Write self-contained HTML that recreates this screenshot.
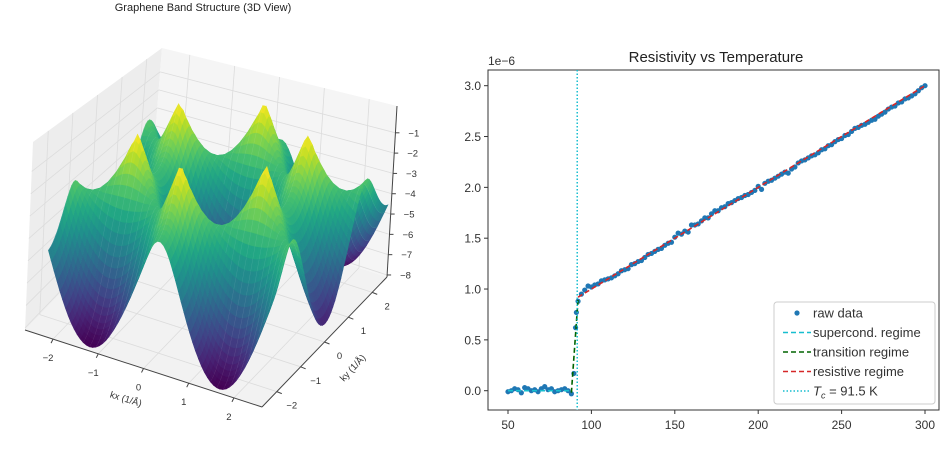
<!DOCTYPE html>
<html><head><meta charset="utf-8"><style>
html,body{margin:0;padding:0;background:#fff;}
svg{display:block;font-family:"Liberation Sans","DejaVu Sans",sans-serif;}
</style></head><body>
<svg id="fig" width="949" height="449" viewBox="0 0 949 449" xmlns="http://www.w3.org/2000/svg">
<g id="left"></g>
<g id="right"></g>
</svg>
<script>
// ---------- Resistivity data (values in 1e-6) ----------
const superStartT = 50;
const superVals = [-0.01,0.00,0.02,0.01,-0.02,0.03,0.02,0.00,0.01,-0.01,0.02,0.04,0.01,0.02,-0.01,0.00,0.01,0.02,0.00,-0.03];
const transTemps = [89.5,90.5,91.0];
const transVals = [0.17,0.62,0.77];
const resistStartT = 92;
const resistVals = [0.88,0.95,0.99,1.03,1.02,1.04,1.05,1.08,1.09,1.10,1.11,1.13,1.15,1.18,1.19,1.20,1.24,1.25,1.27,1.28,1.31,1.34,1.35,1.37,1.39,1.40,1.43,1.45,1.46,1.51,1.55,1.54,1.57,1.56,1.63,1.63,1.64,1.67,1.70,1.70,1.74,1.77,1.77,1.80,1.81,1.84,1.85,1.87,1.89,1.90,1.92,1.93,1.95,1.97,2.01,1.98,2.04,2.06,2.07,2.09,2.11,2.13,2.15,2.14,2.18,2.20,2.24,2.26,2.27,2.29,2.31,2.32,2.34,2.37,2.38,2.41,2.42,2.45,2.47,2.48,2.51,2.52,2.55,2.58,2.59,2.61,2.62,2.64,2.66,2.67,2.70,2.72,2.74,2.77,2.79,2.80,2.83,2.84,2.87,2.88,2.90,2.92,2.95,2.98,3.00];
const superFit = [[50,0],[88,0]];
const transFit = [[88,-0.02],[92,0.9]];
const resistFit = [[92,0.92],[300,3.0]];
const tcValue = [91.5];
const xTicks = [50,100,150,200,250,300];
const yTicks = [0,0.5,1.0,1.5,2.0,2.5,3.0];
const yTickLabels = ["0.0","0.5","1.0","1.5","2.0","2.5","3.0"];

// ---------- 3D surface params ----------
const kRange = [-2.5, 2.5];
const hopping = [2.7];
const latticeA = [1.42];
const kTicks = [-2,-1,0,1,2];
const zTicks = [-1,-2,-3,-4,-5,-6,-7,-8];

const NS="http://www.w3.org/2000/svg";
function mk(tag, attrs, parent){const e=document.createElementNS(NS,tag);for(const k in attrs)e.setAttribute(k,attrs[k]);parent.appendChild(e);return e;}

// ===== Right chart =====
const R=document.getElementById('right');
const X=t=>508+(t-50)*1.668;
const Y=v=>390.7-v*101.67;
let fr=mk('rect',{x:488,y:70,width:451,height:340,fill:'none',stroke:'#333','stroke-width':1},R);

let t1=mk('text',{x:716,y:62,'font-size':15,'text-anchor':'middle',fill:'#222'},R);t1.textContent='Resistivity vs Temperature';

let ex=mk('text',{x:488,y:65,'font-size':12,fill:'#333'},R);ex.textContent='1e\u22126';

xTicks.forEach(t=>{mk('line',{x1:X(t),x2:X(t),y1:410,y2:414,stroke:'#333'},R);
 let l=mk('text',{x:X(t),y:429,'font-size':12,'text-anchor':'middle',fill:'#333'},R);l.textContent=t;
 });
yTicks.forEach((v,i)=>{mk('line',{x1:484,x2:488,y1:Y(v),y2:Y(v),stroke:'#333'},R);
 let l=mk('text',{x:481,y:Y(v)+4.5,'font-size':12,'text-anchor':'end',fill:'#333'},R);l.textContent=yTickLabels[i];
 });
function fitLine(p,col,dash,name){let l=mk('line',{x1:X(p[0][0]),y1:Y(p[0][1]),x2:X(p[1][0]),y2:Y(p[1][1]),stroke:col,'stroke-width':1.6,'stroke-dasharray':dash},R);
 }
const dots=mk('g',{fill:'#1f77b4'},R);

superVals.forEach((v,i)=>mk('circle',{cx:X(superStartT+2*i),cy:Y(v),r:2.6},dots));
transVals.forEach((v,i)=>mk('circle',{cx:X(transTemps[i]),cy:Y(v),r:2.6},dots));
resistVals.forEach((v,i)=>mk('circle',{cx:X(resistStartT+2*i),cy:Y(v),r:2.6},dots));
fitLine(superFit,'#17becf','5,3','supercond-fit-line');
fitLine(transFit,'#006400','5,3','transition-fit-line');
fitLine(resistFit,'#d62728','5,3','resistive-fit-line');
let tc=mk('line',{x1:X(tcValue[0]),x2:X(tcValue[0]),y1:70,y2:410,stroke:'#17becf','stroke-width':1.5,'stroke-dasharray':'1.5,2'},R);

// legend
const lg=mk('g',{},R);
mk('rect',{x:774,y:302,width:161,height:102,rx:3,fill:'#fff','fill-opacity':0.85,stroke:'#ccc'},lg);
const legItems=[['raw data','dot','#1f77b4'],['supercond. regime','5,3','#17becf'],['transition regime','5,3','#006400'],['resistive regime','5,3','#d62728'],['Tc','1.5,2','#17becf']];
legItems.forEach((it,i)=>{const y=313+i*19.5;
 const g=mk('g',{},lg);
 if(it[1]==='dot')mk('circle',{cx:797,cy:y,r:2.6,fill:it[2]},g);
 else mk('line',{x1:783,x2:811,y1:y,y2:y,stroke:it[2],'stroke-width':1.6,'stroke-dasharray':it[1]},g);
 const tx=mk('text',{x:813,y:y+4.5,'font-size':13,fill:'#333'},g);
 if(it[0]==='Tc'){tx.innerHTML='<tspan font-style="italic">T</tspan><tspan font-style="italic" font-size="9" dy="3">c</tspan><tspan dy="-3"> = 91.5 K</tspan>';}
 else tx.textContent=it[0];});

// ===== Left 3D chart =====
const L=document.getElementById('left');
const axLo=-2.62, axHi=2.62, zLo=-8.1, zHi=0.32;
function P(u,v,w){
 const bx=25+u*237+v*125, by=330+u*77-v*130;
 const h=188+19*u-36*v; const sx=8-2*u+4*v;
 return [bx+w*sx, by-w*h];}
const nu=k=>(k-axLo)/(axHi-axLo), nw=z=>(z-zLo)/(zHi-zLo);
function poly(pts,attrs,parent){return mk('polygon',Object.assign({points:pts.map(p=>p[0].toFixed(1)+','+p[1].toFixed(1)).join(' ')},attrs),parent);}
const panes=mk('g',{},L);
poly([P(0,0,0),P(1,0,0),P(1,1,0),P(0,1,0)],{fill:'#f2f2f2'},panes);
poly([P(0,0,0),P(0,1,0),P(0,1,1),P(0,0,1)],{fill:'#ededed'},panes);
poly([P(0,1,0),P(1,1,0),P(1,1,1),P(0,1,1)],{fill:'#f5f5f5'},panes);
const grid=mk('g',{stroke:'#dcdcdc','stroke-width':0.8},L);
function seg(a,b,par){return mk('line',{x1:a[0],y1:a[1],x2:b[0],y2:b[1]},par);}
kTicks.forEach(k=>{const u=nu(k);seg(P(u,0,0),P(u,1,0),grid);seg(P(u,1,0),P(u,1,1),grid);
 seg(P(0,u,0),P(1,u,0),grid);seg(P(0,u,0),P(0,u,1),grid);});
zTicks.forEach(z=>{const w=nw(z);seg(P(0,0,w),P(0,1,w),grid);seg(P(0,1,w),P(1,1,w),grid);});
const ax=mk('g',{stroke:'#444','stroke-width':1},L);
seg(P(0,0,0),P(1,0,0),ax);seg(P(1,0,0),P(1,1,0),ax);seg(P(1,1,0),P(1,1,1),ax);
// surface
const surf=mk('g',{},L);
const vir=[[68,1,84],[72,35,116],[64,67,135],[52,94,141],[41,120,142],[32,144,140],[34,167,132],[68,190,112],[121,209,81],[189,222,38],[253,231,37]];
function viridis(t){t=Math.max(0,Math.min(1,t));const f=t*10,i=Math.min(9,Math.floor(f)),r=f-i;const a=vir[i],b=vir[i+1];
 return 'rgb('+[0,1,2].map(j=>Math.round(a[j]+(b[j]-a[j])*r)).join(',')+')';}
function E(kx,ky){const a=latticeA[0];const c=Math.cos(Math.sqrt(3)/2*a*ky);
 return -hopping[0]*Math.sqrt(Math.max(0,1+4*Math.cos(1.5*a*kx)*c+4*c*c));}
const N=70, ks=[];for(let i=0;i<N;i++)ks.push(kRange[0]+(kRange[1]-kRange[0])*i/(N-1));
const Z=ks.map(kx=>ks.map(ky=>E(kx,ky)));
let zmin=Infinity,zmax=-Infinity;Z.forEach(r=>r.forEach(z=>{zmin=Math.min(zmin,z);zmax=Math.max(zmax,z);}));
const su=k=>nu(k)*0.97+0.05;
const faces=[];
for(let i=0;i<N-1;i++)for(let j=0;j<N-1;j++){
 const c=[[i,j],[i+1,j],[i+1,j+1],[i,j+1]];
 let zs=0,us=0,vs=0;const pts=c.map(([a,b])=>{const u=su(ks[a]),v=nu(ks[b]),w=nw(Z[a][b]);zs+=Z[a][b];us+=u;vs+=v;return P(u,v,w);});
 const za=zs/4,ua=us/4,va=vs/4;
 const depth=(0.5*ua-0.866*va)*0.866+nw(za)*0.75*0.5;
 faces.push({pts,za,depth,mesh:(i%2==0)});}
faces.sort((a,b)=>a.depth-b.depth);
faces.forEach(f=>{const col=viridis((f.za-zmin)/(zmax-zmin));poly(f.pts,{fill:col,stroke:col,'stroke-width':0.6},surf);
 if(f.mesh){const p=f.pts;mk('line',{x1:p[0][0],y1:p[0][1],x2:p[3][0],y2:p[3][1],stroke:'#fff','stroke-opacity':0.12,'stroke-width':0.5},surf);}});
// tick labels
const lab=(x,y,t,extra,name)=>{const e=mk('text',Object.assign({x,y,'font-size':9.5,fill:'#333','text-anchor':'middle'},extra||{}),L);e.textContent=t;
 return e;};
const mn=s=>String(s).replace('-','\u2212');
kTicks.forEach(k=>{const u=nu(k);const a=P(u,0,0);seg(a,[a[0]-2,a[1]+4],ax);
 lab(a[0]-5,a[1]+22,mn(k),{},'kx-tick-label');
 const b=P(1,u,0);seg(b,[b[0]+5,b[1]+2],ax);
 lab(b[0]+15,b[1]+17,mn(k),{},'ky-tick-label');});
zTicks.forEach(z=>{const p=P(1,1,nw(z));seg(p,[p[0]+4,p[1]],ax);
 lab(p[0]+13,p[1]+3.5,mn(z),{'text-anchor':'start'},'z-tick-label');});
lab(125,402,'kx (1/\u00c5)',{transform:'rotate(17 125 402)'},'kx-axis-title');
lab(355,370,'ky (1/\u00c5)',{transform:'rotate(-47 355 370)'},'ky-axis-title');
lab(203,11,'Graphene Band Structure (3D View)',{'font-size':11,fill:'#222'},'band-chart-title');
</script>
</body></html>
